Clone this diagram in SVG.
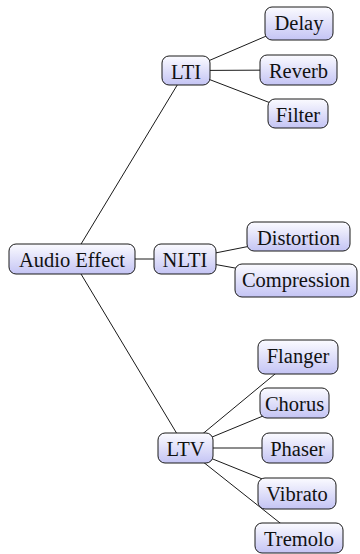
<svg xmlns="http://www.w3.org/2000/svg" width="360" height="554" viewBox="0 0 360 554">
  <defs>
    <linearGradient id="nodeFill" x1="0" y1="0" x2="0" y2="1">
      <stop offset="0" stop-color="#fbfbff"/>
      <stop offset="1" stop-color="#c4c4f4"/>
    </linearGradient>
  </defs>
  <style>
    .box { fill: url(#nodeFill); stroke: #1a1a1a; stroke-width: 1; }
    .lbl { font-family: "Liberation Serif", "Times New Roman", Times, "Nimbus Roman", "Nimbus Roman No9 L", FreeSerif, "Noto Serif", "DejaVu Serif", Tinos, Georgia, serif; font-size: 20.5px; fill: #111; text-anchor: middle; }
    .edge { stroke: #1a1a1a; stroke-width: 1; fill: none; }
  </style>
  <rect width="360" height="554" fill="#ffffff"/>

  <!-- tree edges, centre to centre, drawn under the nodes -->
  <g id="connectors">
    <line class="edge" x1="72" y1="259" x2="186" y2="70.5"/>
    <line class="edge" x1="72" y1="259" x2="185" y2="259"/>
    <line class="edge" x1="72" y1="259" x2="185.5" y2="448"/>
    <line class="edge" x1="186" y1="70.5" x2="299" y2="22"/>
    <line class="edge" x1="186" y1="70.5" x2="298.5" y2="70"/>
    <line class="edge" x1="186" y1="70.5" x2="298" y2="113.5"/>
    <line class="edge" x1="185" y1="259" x2="298.5" y2="236.5"/>
    <line class="edge" x1="185" y1="259" x2="296" y2="279"/>
    <line class="edge" x1="185.5" y1="448" x2="298" y2="355"/>
    <line class="edge" x1="185.5" y1="448" x2="294.5" y2="403"/>
    <line class="edge" x1="185.5" y1="448" x2="297.5" y2="448"/>
    <line class="edge" x1="185.5" y1="448" x2="297" y2="493"/>
    <line class="edge" x1="185.5" y1="448" x2="299" y2="538"/>
  </g>

  <g id="audio-effect">
    <rect class="box" x="9" y="244" width="126" height="30" rx="7"/>
    <text class="lbl" x="72" y="267">Audio Effect</text>
  </g>
  <g id="lti">
    <rect class="box" x="162" y="56" width="48" height="29" rx="7"/>
    <text class="lbl" x="186" y="78.5">LTI</text>
  </g>
  <g id="nlti">
    <rect class="box" x="154" y="244" width="62" height="30" rx="7"/>
    <text class="lbl" x="185" y="267">NLTI</text>
  </g>
  <g id="ltv">
    <rect class="box" x="158" y="433" width="55" height="30" rx="7"/>
    <text class="lbl" x="185.5" y="456">LTV</text>
  </g>
  <g id="delay">
    <rect class="box" x="265" y="7" width="68" height="33" rx="7"/>
    <text class="lbl" x="299" y="30">Delay</text>
  </g>
  <g id="reverb">
    <rect class="box" x="260" y="55" width="77" height="30" rx="7"/>
    <text class="lbl" x="298.5" y="78">Reverb</text>
  </g>
  <g id="filter">
    <rect class="box" x="268" y="99" width="60" height="29" rx="7"/>
    <text class="lbl" x="298" y="121.5">Filter</text>
  </g>
  <g id="distortion">
    <rect class="box" x="247" y="222" width="103" height="29" rx="7"/>
    <text class="lbl" x="298.5" y="244.5">Distortion</text>
  </g>
  <g id="compression">
    <rect class="box" x="235" y="264" width="122" height="33" rx="7"/>
    <text class="lbl" x="296" y="287">Compression</text>
  </g>
  <g id="flanger">
    <rect class="box" x="258" y="340" width="80" height="34" rx="7"/>
    <text class="lbl" x="298" y="363">Flanger</text>
  </g>
  <g id="chorus">
    <rect class="box" x="260" y="388" width="69" height="30" rx="7"/>
    <text class="lbl" x="294.5" y="411">Chorus</text>
  </g>
  <g id="phaser">
    <rect class="box" x="262" y="433" width="71" height="30" rx="7"/>
    <text class="lbl" x="297.5" y="456">Phaser</text>
  </g>
  <g id="vibrato">
    <rect class="box" x="258" y="478" width="78" height="31" rx="7"/>
    <text class="lbl" x="297" y="501">Vibrato</text>
  </g>
  <g id="tremolo">
    <rect class="box" x="255" y="523" width="88" height="30" rx="7"/>
    <text class="lbl" x="299" y="546">Tremolo</text>
  </g>
</svg>
